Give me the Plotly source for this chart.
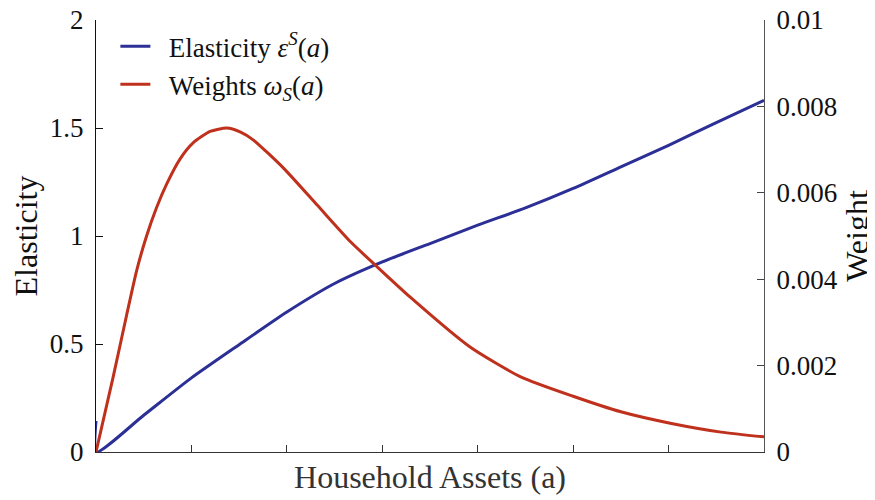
import plotly.graph_objects as go

# Elasticity series (left axis)
assets_e = [0, 0.005, 0.5, 1.0, 1.5, 2.0, 2.5, 3.0, 3.5, 4.0, 4.5, 5.0, 5.5, 6.0, 6.5, 7.0]
elasticity = [0.144, 0.0, 0.170, 0.343, 0.497, 0.648, 0.780, 0.880, 0.965, 1.050, 1.130, 1.220, 1.320, 1.420, 1.525, 1.628]

# Weights series (right axis)
assets_w = [0, 0.18, 0.32, 0.426, 0.53, 0.635, 0.74, 0.88, 1.02, 1.195, 1.37, 1.51, 1.65, 1.97,
            2.32, 2.67, 2.93, 3.29, 3.92, 4.45, 5.0, 5.5, 6.03, 6.55, 7.0]
weights = [0, 0.00174, 0.00316, 0.00420, 0.00500, 0.00566, 0.00620, 0.00678, 0.00716, 0.00742,
           0.0075, 0.00741, 0.00722, 0.00656, 0.00571, 0.00486, 0.00432, 0.00359, 0.00243,
           0.00174, 0.00129, 0.00093, 0.00066, 0.00046, 0.00035]

left_ticks = [0, 0.5, 1, 1.5, 2]
left_ticklabels = ["0", "0.5", "1", "1.5", "2"]
right_ticks = [0, 0.002, 0.004, 0.006, 0.008, 0.01]
right_ticklabels = ["0", "0.002", "0.004", "0.006", "0.008", "0.01"]
x_ticks = [0, 1, 2, 3, 4, 5, 6, 7]

BLUE = "#2B2F96"
RED = "#BF311C"
FONT = "Liberation Serif"
PAD = "\u2002"

fig = go.Figure()
fig.add_trace(go.Scatter(
    x=assets_e, y=elasticity, mode="lines",
    line=dict(color=BLUE, width=3, shape="spline", smoothing=0.6),
    name=PAD + "Elasticity <i>ε</i><sup><i>S</i></sup>(<i>a</i>)",
    yaxis="y"))
fig.add_trace(go.Scatter(
    x=assets_w, y=weights, mode="lines",
    line=dict(color=RED, width=3, shape="spline", smoothing=0.6),
    name=PAD + "Weights <i>ω</i><sub><i>S</i></sub>(<i>a</i>)",
    yaxis="y2"))

fig.update_layout(
    width=867, height=492,
    margin=dict(l=88, r=111, t=12, b=48, autoexpand=False),
    paper_bgcolor="white", plot_bgcolor="white",
    font=dict(family=FONT, size=27, color="#222"),
    showlegend=True,
    legend=dict(x=0.029, y=0.995, xanchor="left", yanchor="top",
                bgcolor="rgba(0,0,0,0)", font=dict(size=27, color="#111"),
                tracegroupgap=0),
    xaxis=dict(range=[0, 7], tickvals=x_ticks, showticklabels=False,
               ticks="inside", ticklen=7, tickcolor="#333", tickwidth=1,
               showline=True, linecolor="#333", linewidth=1.3,
               showgrid=False, zeroline=False, automargin=False,
               title=dict(text="Household Assets (a)", font=dict(size=32, color="#333"), standoff=13)),
    yaxis=dict(range=[0, 2], tickvals=left_ticks, ticktext=left_ticklabels,
               ticks="inside", ticklen=7, tickcolor="#111", tickwidth=1,
               showline=True, linecolor="#111", linewidth=1.3,
               showgrid=False, zeroline=False, ticklabelstandoff=6, automargin=False,
               ticklabeloverflow="allow",
               tickfont=dict(size=27, color="#111"),
               title=dict(text="Elasticity", font=dict(size=32, color="#111"), standoff=6)),
    yaxis2=dict(range=[0, 0.01], tickvals=right_ticks, ticktext=right_ticklabels,
                overlaying="y", side="right", anchor="x",
                ticks="inside", ticklen=7, tickcolor="#444", tickwidth=1,
                showline=True, linecolor="#555", linewidth=1.3,
                showgrid=False, zeroline=False, ticklabelstandoff=6, automargin=False,
                ticklabeloverflow="allow",
                tickfont=dict(size=27, color="#111"),
                title=dict(text="Weight", font=dict(size=32, color="#111"), standoff=10)),
)

fig.write_html("out.html")
